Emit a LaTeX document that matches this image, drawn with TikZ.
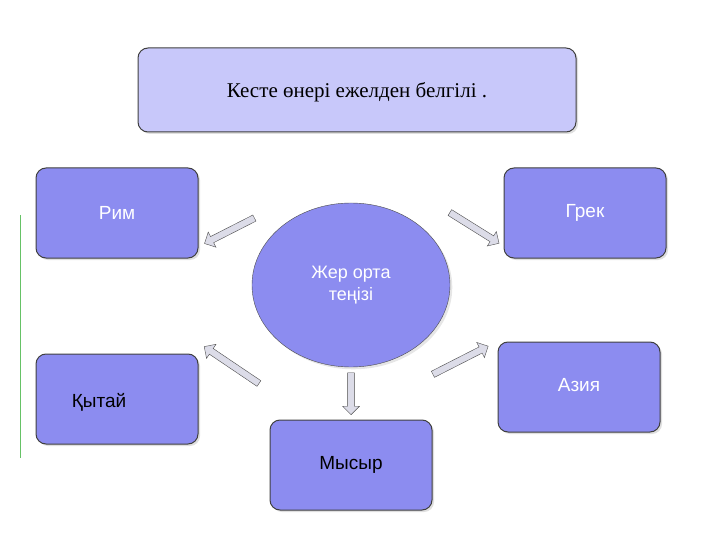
\documentclass[tikz,border=0pt]{standalone}
\usepackage{fontspec}
\setmainfont{Liberation Serif}
\newfontfamily\sansf{Liberation Sans}
\usetikzlibrary{shapes.arrows,shapes.geometric,shadows}
\begin{document}
\begin{tikzpicture}[x=1pt,y=-1pt,
 box/.style={draw=black!75,line width=1pt,rounded corners=10pt,fill=boxc,drop shadow={opacity=0.25,shadow xshift=2pt,shadow yshift=-2pt}},
 blk/.style={single arrow,draw=black!70,fill=arrc,minimum width=17pt,single arrow head extend=4pt,inner sep=2.5pt,single arrow head indent=0pt},
 wt/.style={font=\sansf\fontsize{19}{21}\selectfont,text=white},
 dk/.style={font=\sansf\fontsize{19}{21}\selectfont,text=black}]
\definecolor{boxc}{HTML}{8C8CF0}
\definecolor{arrc}{HTML}{DCDCE8}
\definecolor{topc}{HTML}{C8C8FA}
\useasboundingbox (0,0) rectangle (720,540);
\draw[green!60!black!60,line width=1pt] (20,215) -- (20,458);
\node[box,fill=topc,minimum width=438pt,minimum height=84pt] (top) at (357,90) {};
\node[font=\fontsize{21}{24}\selectfont] (toptxt) at (357,92) {Кесте өнері ежелден белгілі .};
\node[box,minimum width=162pt,minimum height=90pt] (rim) at (117,213) {};
\node[wt] (rimt) at (117,213) {Рим};
\node[box,minimum width=162pt,minimum height=90pt] (grek) at (585,213) {};
\node[wt] (grekt) at (585,213) {Грек};
\node[box,minimum width=162pt,minimum height=90pt] (qyt) at (117,399) {};
\node[dk] (qytt) at (99,402) {Қытай};
\node[box,minimum width=162pt,minimum height=90pt] (az) at (579,387) {};
\node[wt] (azt) at (579,385) {Азия};
\node[box,minimum width=162pt,minimum height=90pt] (mys) at (351,465) {};
\node[dk] (myst) at (351,465) {Мысыр};
\node[ellipse,draw=black!70,fill=boxc,minimum width=198pt,minimum height=164pt,drop shadow={opacity=0.2}] (sea) at (351,285) {};
\node[wt,align=center,font=\sansf\fontsize{18}{22}\selectfont] (seat) at (351,285) {Жер орта\\теңізі};
\node[blk,minimum height=56pt,rotate=207] (a1) at (231,230) {};
\node[blk,minimum height=58pt,rotate=-32] (a2) at (473,227) {};
\node[blk,minimum height=66pt,rotate=146] (a3) at (233,366) {};
\node[blk,minimum height=62pt,rotate=27] (a4) at (459,361) {};
\node[blk,minimum height=42pt,rotate=-90] (a5) at (351,392) {};
\end{tikzpicture}
\end{document}
